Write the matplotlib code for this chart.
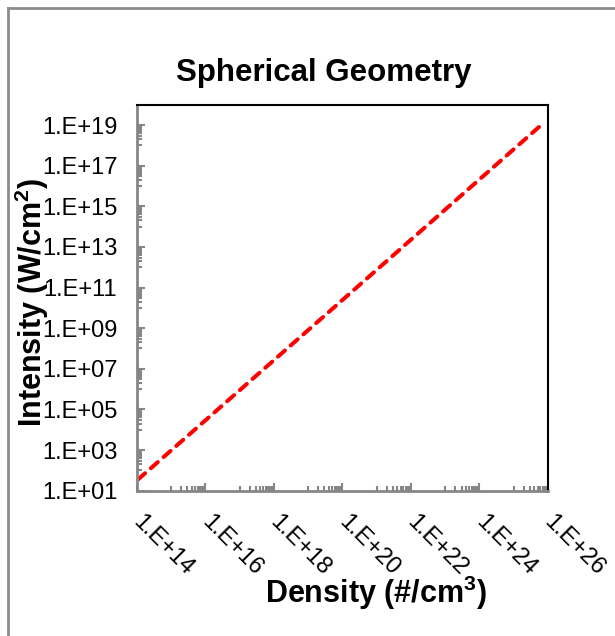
import matplotlib
matplotlib.use("Agg")
import matplotlib.pyplot as plt
import numpy as np
from matplotlib.ticker import FixedLocator, FuncFormatter, NullFormatter
from matplotlib.lines import Line2D

plt.rcParams['font.family'] = ['Liberation Sans', 'DejaVu Sans']
plt.rcParams['mathtext.fontset'] = 'custom'
plt.rcParams['mathtext.bf'] = 'Liberation Sans:bold'
plt.rcParams['mathtext.rm'] = 'Liberation Sans'

# values
density = [1.1e14, 1e20, 8e25]        # #/cm^3
intensity = [36, 2.4e10, 1.4e19]      # W/cm^2

x_major = [1e14, 1e16, 1e18, 1e20, 1e22, 1e24, 1e26]
y_major = [1e1, 1e3, 1e5, 1e7, 1e9, 1e11, 1e13, 1e15, 1e17, 1e19]

GREY = '#868686'

fig = plt.figure(figsize=(6.15, 6.36), dpi=100)
ax = fig.add_axes([0.2223, 0.2285, 0.6687, 0.6069])

ax.plot(density, intensity, color='#FF0000', linewidth=2.9,
        linestyle=(0, (2.3, 1.9)), dash_capstyle='round')

ax.set_xscale('log')
ax.set_yscale('log')
ax.set_xlim(1e14, 1e26)
ax.set_ylim(1e1, 1e20)

# excel-style log axes: labelled every 2 decades, minor ticks in the odd decade
x_minor = [k * 10.0 ** e for e in range(15, 26, 2) for k in range(1, 10)]
y_minor = [k * 10.0 ** e for e in range(2, 20, 2) for k in range(1, 10)]

fmt = FuncFormatter(lambda v, pos: f"1.E+{int(round(np.log10(v))):02d}")
ax.xaxis.set_major_locator(FixedLocator(x_major))
ax.yaxis.set_major_locator(FixedLocator(y_major))
ax.xaxis.set_minor_locator(FixedLocator(x_minor))
ax.yaxis.set_minor_locator(FixedLocator(y_minor))
ax.xaxis.set_major_formatter(fmt)
ax.yaxis.set_major_formatter(fmt)
ax.xaxis.set_minor_formatter(NullFormatter())
ax.yaxis.set_minor_formatter(NullFormatter())

ax.tick_params(which='both', direction='in', color=GREY, width=1.5,
               top=False, right=False)
ax.tick_params(which='major', length=6)
ax.tick_params(which='minor', length=3.5)
ax.tick_params(axis='y', which='major', labelsize=17, pad=14)
ax.tick_params(axis='x', which='major', labelsize=17, pad=20)

for lab in ax.get_xticklabels():
    lab.set_rotation(-45)
    lab.set_ha('left')
    lab.set_va('center')
    lab.set_rotation_mode('anchor')

for side in ['left', 'bottom']:
    ax.spines[side].set_color(GREY)
    ax.spines[side].set_linewidth(2)
for side in ['top', 'right']:
    ax.spines[side].set_color('black')
    ax.spines[side].set_linewidth(1.5)

fig.text(0.527, 0.886, 'Spherical Geometry', fontsize=22.5, fontweight='bold',
         ha='center', va='center')
fig.text(0.612, 0.068, r'Density (#/cm$^{\mathbf{3}}$)', fontsize=22,
         fontweight='bold', ha='center', va='center')
fig.text(0.052, 0.525, r'Intensity (W/cm$^{\mathbf{2}}$)', fontsize=22,
         fontweight='bold', ha='center', va='center', rotation=90)

# chart area border (only top and left edges visible)
fig.add_artist(Line2D([8 / 615, 1], [1 - 8 / 636] * 2, color='#8c8c8c',
                      linewidth=2, transform=fig.transFigure))
fig.add_artist(Line2D([8 / 615] * 2, [0, 1 - 8 / 636], color='#8c8c8c',
                      linewidth=2, transform=fig.transFigure))

fig.savefig('out.png', dpi=100)
